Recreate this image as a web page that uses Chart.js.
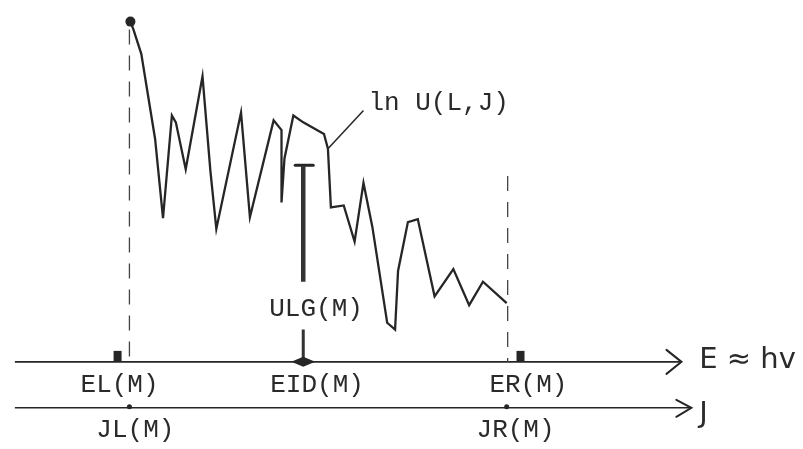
<!DOCTYPE html>
<html>
<head>
<meta charset="utf-8">
<script src="https://cdn.jsdelivr.net/npm/chart.js@4.4.1/dist/chart.umd.min.js"></script>
<style>
    body { margin: 0; background: #ffffff; }
    canvas { display: block; }
</style>
</head>
<body>
<canvas id="DiagramCanvas" width="803" height="449"></canvas>
<script>
// Curve ln U(L,J) (E along x, ln U upward)
const curveE   = [127, 130, 138, 152, 160, 169, 173, 183, 200, 208, 214, 239, 248, 272, 280, 280, 283, 292, 302, 323, 327, 330, 343, 354, 363, 372, 387, 395, 398, 408, 418, 435, 454, 470, 484, 508];
const curveLnU = [432, 424, 399, 312, 231, 336, 329, 281, 376, 279, 220, 339, 232, 331, 321, 247, 292, 336, 329, 317, 302, 242, 244, 207, 267, 222, 124, 117, 177, 227, 230, 151, 179, 142, 166, 144];

// Axis levels and extents
const eAxisLevel = 84;
const jAxisLevel = 37;
const axisStart = 10;
const eAxisEnd = 685;
const jAxisEnd = 695;

// Ticks on the E axis and the J axis
const eTickValues = [126, 302, 509];
const eTickLabels = ['EL(M)', 'EID(M)', 'ER(M)'];
const jTickValues = [126, 508];
const jTickLabels = ['JL(M)', 'JR(M)'];

// Dashed verticals at EL and ER (top of each)
const dashedE   = [126, 509];
const dashedTop = [424, 274];

// ULG(M) bar at EID
const ulgE = 302;
const ulgTop = 284;
const ulgBottom = 166;

Initialize();

function Initialize()
{
    const ctx = document.getElementById('DiagramCanvas').getContext('2d');
    const ink = '#262626';

    const datasets = [];

    // main curve
    datasets.push({
        data: curveE.map((e, i) => ({ x: e, y: curveLnU[i] })),
        borderColor: ink,
        borderWidth: 2.3,
        pointRadius: curveE.map((e, i) => i === 0 ? 5 : 0),
        pointBackgroundColor: ink,
        pointBorderWidth: 0,
        tension: 0
    });

    // dashed verticals
    dashedE.forEach((e, i) => {
        datasets.push({
            data: [{ x: e, y: dashedTop[i] }, { x: e, y: eAxisLevel }],
            borderColor: '#444',
            borderWidth: 1.3,
            borderDash: [15, 11],
            pointRadius: 0
        });
    });

    // E axis and J axis
    datasets.push({
        data: [{ x: axisStart, y: eAxisLevel }, { x: eAxisEnd, y: eAxisLevel }],
        borderColor: ink, borderWidth: 1.6, pointRadius: 0
    });
    datasets.push({
        data: [{ x: axisStart, y: jAxisLevel }, { x: jAxisEnd, y: jAxisLevel }],
        borderColor: ink, borderWidth: 1.6, pointRadius: 0
    });

    // ULG(M) bar and the short stem down to EID
    datasets.push({
        data: [{ x: ulgE, y: ulgTop }, { x: ulgE, y: ulgBottom }],
        borderColor: '#333', borderWidth: 4.5, pointRadius: 0
    });
    datasets.push({
        data: [{ x: ulgE, y: 117 }, { x: ulgE, y: eAxisLevel }],
        borderColor: '#333', borderWidth: 3, pointRadius: 0
    });

    // leader line to the curve label
    datasets.push({
        data: [{ x: 327, y: 302 }, { x: 363, y: 341 }],
        borderColor: ink, borderWidth: 1.5, pointRadius: 0
    });

    const diagramPlugin = {
        id: 'diagram',
        afterDatasetsDraw(chart)
        {
            const c = chart.ctx;
            const px = v => chart.scales.x.getPixelForValue(v);
            const py = v => chart.scales.y.getPixelForValue(v);

            c.save();
            c.strokeStyle = ink;
            c.fillStyle = ink;
            c.lineWidth = 2;
            c.lineCap = 'round';

            // arrowheads
            let tx = px(eAxisEnd), ty = py(eAxisLevel);
            c.beginPath();
            c.moveTo(tx - 15, ty - 12); c.lineTo(tx, ty); c.lineTo(tx - 15, ty + 12);
            c.stroke();
            tx = px(jAxisEnd); ty = py(jAxisLevel);
            c.beginPath();
            c.moveTo(tx - 15, ty - 8); c.lineTo(tx, ty); c.lineTo(tx - 15, ty + 9);
            c.stroke();

            // T cap on the ULG bar
            c.lineWidth = 3;
            c.beginPath();
            c.moveTo(px(ulgE) - 8, py(ulgTop) - 1);
            c.lineTo(px(ulgE) + 10, py(ulgTop) - 1);
            c.stroke();

            // diamond at EID
            const dx = px(ulgE), dy = py(eAxisLevel);
            c.beginPath();
            c.moveTo(dx - 12, dy); c.lineTo(dx, dy - 5); c.lineTo(dx + 12, dy); c.lineTo(dx, dy + 5);
            c.closePath();
            c.fill();

            // small bumps next to EL and ER
            [114, 522].forEach(e => {
                const bx = px(e), by = py(eAxisLevel);
                c.fillRect(bx - 4, by - 11, 8, 11);
            });

            // tick dots on J axis
            jTickValues.forEach(e => {
                c.beginPath();
                c.arc(px(e), py(jAxisLevel) - 1, 2.5, 0, Math.PI * 2);
                c.fill();
            });

            // typewriter labels
            c.fillStyle = '#2a2a2a';
            c.font = '26px "Liberation Mono"';
            c.textBaseline = 'middle';
            c.textAlign = 'center';
            const eLabelCentres = [116, 316, 530];
            eTickLabels.forEach((t, i) => c.fillText(t, px(eLabelCentres[i]), py(60)));
            const jLabelCentres = [132, 517];
            jTickLabels.forEach((t, i) => c.fillText(t, px(jLabelCentres[i]), py(14)));
            c.fillText('ULG(M)', px(315), py(138));
            c.textAlign = 'left';
            c.fillText('ln U(L,J)', px(368), py(349));

            // handwritten axis names
            c.font = '29px "DejaVu Sans"';
            c.fillStyle = '#2b2b2b';
            c.fillText('E \u2248 hv', px(703), py(85));
            c.fillText('J', px(703), py(30));

            c.restore();
        }
    };

    new Chart(ctx,
    {
        type: 'line',
        data: { datasets: datasets },
        options:
        {
            responsive: false,
            animation: false,
            devicePixelRatio: 1,
            layout: { padding: 0 },
            plugins:
            {
                legend: { display: false },
                tooltip: { enabled: false }
            },
            scales:
            {
                x: { type: 'linear', min: 0, max: 803, display: false },
                y: { type: 'linear', min: 0, max: 449, display: false }
            }
        },
        plugins: [diagramPlugin]
    });
}
</script>
</body>
</html>
